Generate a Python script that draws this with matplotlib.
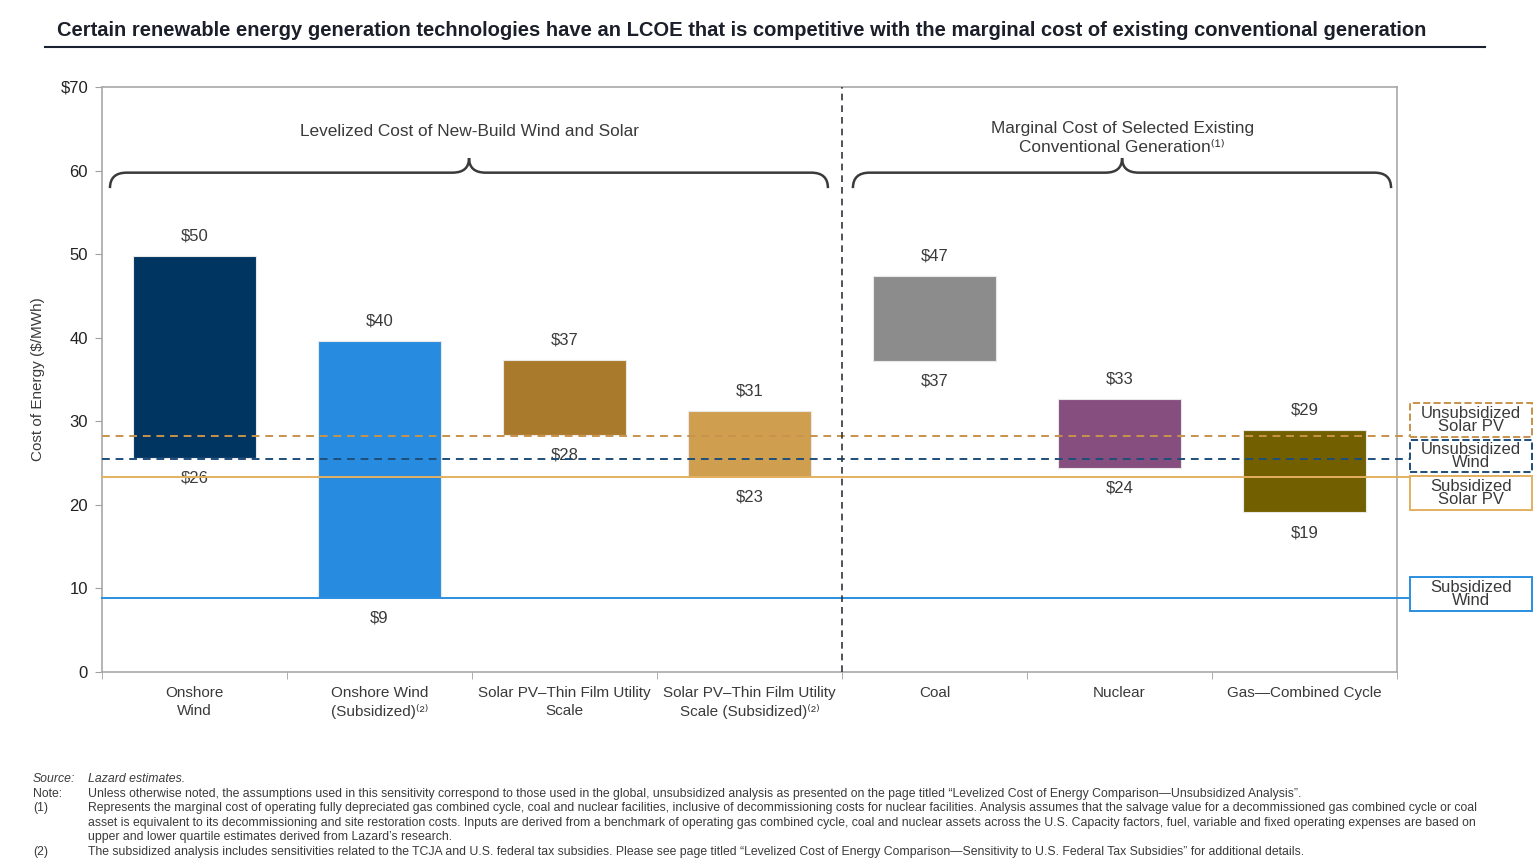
import matplotlib
matplotlib.use("Agg")
import matplotlib.pyplot as plt
from matplotlib.path import Path
from matplotlib.patches import PathPatch, Rectangle

# ---------------- data ----------------
categories = ["Onshore\nWind",
              "Onshore Wind\n(Subsidized)\u207d\u00b2\u207e",
              "Solar PV\u2013Thin Film Utility\nScale",
              "Solar PV\u2013Thin Film Utility\nScale (Subsidized)\u207d\u00b2\u207e",
              "Coal", "Nuclear", "Gas\u2014Combined Cycle"]
low_values = [25.6, 8.9, 28.4, 23.3, 37.2, 24.4, 19.1]
high_values = [49.8, 39.6, 37.3, 31.2, 47.4, 32.7, 29.0]
low_labels = ["$26", "$9", "$28", "$23", "$37", "$24", "$19"]
high_labels = ["$50", "$40", "$37", "$31", "$47", "$33", "$29"]
bar_colors = ["#003562", "#278CE0", "#AA7A2C", "#CF9E4F", "#8C8C8C", "#864E7E", "#726000"]

ref_names = ["Unsubsidized\nSolar PV", "Unsubsidized\nWind", "Subsidized\nSolar PV", "Subsidized\nWind"]
ref_values = [28.2, 25.5, 23.3, 8.9]
ref_colors = ["#C8934A", "#1F4E79", "#E3B060", "#2A8FE0"]
ref_styles = ["--", "--", "-", "-"]

yticks = [0, 10, 20, 30, 40, 50, 60, 70]
ytick_labels = ["0", "10", "20", "30", "40", "50", "60", "\\$70"]

group_titles = ["Levelized Cost of New-Build Wind and Solar",
                "Marginal Cost of Selected Existing\nConventional Generation\u207d\u00b9\u207e"]

title = ("Certain renewable energy generation technologies have an LCOE that is competitive "
         "with the marginal cost of existing conventional generation")

notes = [
    ("Source:", "Lazard estimates.", True),
    ("Note:", "Unless otherwise noted, the assumptions used in this sensitivity correspond to those used in the global, unsubsidized analysis as presented on the page titled \u201cLevelized Cost of Energy Comparison\u2014Unsubsidized Analysis\u201d.", False),
    ("(1)", "Represents the marginal cost of operating fully depreciated gas combined cycle, coal and nuclear facilities, inclusive of decommissioning costs for nuclear facilities. Analysis assumes that the salvage value for a decommissioned gas combined cycle or coal", False),
    ("", "asset is equivalent to its decommissioning and site restoration costs. Inputs are derived from a benchmark of operating gas combined cycle, coal and nuclear assets across the U.S. Capacity factors, fuel, variable and fixed operating expenses are based on", False),
    ("", "upper and lower quartile estimates derived from Lazard\u2019s research.", False),
    ("(2)", "The subsidized analysis includes sensitivities related to the TCJA and U.S. federal tax subsidies. Please see page titled \u201cLevelized Cost of Energy Comparison\u2014Sensitivity to U.S. Federal Tax Subsidies\u201d for additional details.", False),
]

# ---------------- style ----------------
REG = ["Liberation Sans", "DejaVu Sans"]
TXT = "#3A3A3A"
plt.rcParams["font.family"] = REG

fig = plt.figure(figsize=(15.36, 8.68), dpi=100)
ax = fig.add_axes([102/1536, 1-672/868, (1397-102)/1536, (672-87)/868])

x = list(range(len(categories)))
heights = [h - l for h, l in zip(high_values, low_values)]
ax.bar(x, heights, bottom=low_values, width=0.665, color=bar_colors,
       edgecolor="#E8E8E8", linewidth=0.8, zorder=2)

for xi, lo, hi, ll, hl in zip(x, low_values, high_values, low_labels, high_labels):
    ax.annotate(hl.replace("$", "\\$"), (xi, hi), xytext=(0, 14.5), textcoords="offset points",
                ha="center", va="center", fontsize=12, color=TXT)
    ax.annotate(ll.replace("$", "\\$"), (xi, lo), xytext=(0, -14.5), textcoords="offset points",
                ha="center", va="center", fontsize=12, color=TXT)

# reference lines and boxes
box_x0, box_x1 = 6.57, 7.23
box_ranges = [(28.1, 32.2), (23.9, 27.8), (19.4, 23.45), (7.3, 11.4)]
for name, val, col, ls, (b0, b1) in zip(ref_names, ref_values, ref_colors, ref_styles, box_ranges):
    ax.plot([-0.5, box_x0], [val, val], color=col, ls=ls, lw=1.4,
            dashes=(4, 3) if ls == "--" else (None, None), clip_on=False, zorder=3)
    rect = Rectangle((box_x0, b0), box_x1 - box_x0, b1 - b0, fill=False, edgecolor=col,
                     lw=1.4, ls=ls, clip_on=False, zorder=3)
    ax.add_patch(rect)
    ax.text((box_x0 + box_x1) / 2, (b0 + b1) / 2, name, ha="center", va="center",
            fontsize=12, color=TXT, linespacing=0.85, clip_on=False)

# vertical dashed separator
ax.plot([3.5, 3.5], [0, 70], color="#2F3540", lw=1.2, ls="--", dashes=(4, 3), zorder=3)

# brackets
def bracket(x0, x1, xc, y_end, y_h, y_peak, rx=0.09):
    verts = [(x0, y_end), (x0, y_h), (x0 + rx, y_h),
             (xc - rx, y_h),
             (xc, y_h), (xc, y_peak),
             (xc, y_h), (xc + rx, y_h),
             (x1 - rx, y_h),
             (x1, y_h), (x1, y_end)]
    codes = [Path.MOVETO, Path.CURVE3, Path.CURVE3,
             Path.LINETO,
             Path.CURVE3, Path.CURVE3,
             Path.CURVE3, Path.CURVE3,
             Path.LINETO,
             Path.CURVE3, Path.CURVE3]
    ax.add_patch(PathPatch(Path(verts, codes), fill=False, edgecolor="#3A3A3A", lw=1.8,
                           clip_on=False, zorder=3))

bracket(-0.457, 3.424, 1.484, 57.9, 59.75, 61.5)
bracket(3.559, 6.468, 5.014, 57.9, 59.75, 61.5)

ax.text(1.484, 64.7, group_titles[0], ha="center", va="center", fontsize=12.4, color=TXT)
ax.text(5.014, 63.9, group_titles[1], ha="center", va="center", fontsize=12.4, color=TXT,
        linespacing=1.35)

# axes styling
ax.set_xlim(-0.5, 6.5)
ax.set_ylim(0, 70)
ax.set_yticks(yticks)
ax.set_yticklabels(ytick_labels, fontsize=12, color="#222222")
ax.set_xticks(x)
ax.set_xticklabels(categories, fontsize=11, color=TXT, linespacing=1.35)
ax.set_xticks([i - 0.5 for i in range(len(categories) + 1)], minor=True)
ax.tick_params(axis="x", which="major", length=0, pad=10)
ax.tick_params(axis="x", which="minor", length=5, color="#A0A0A0", direction="out")
ax.tick_params(axis="y", length=5, color="#A0A0A0", pad=5)
for s in ax.spines.values():
    s.set_color("#A8A8A8")
    s.set_linewidth(1.2)
ax.set_ylabel("Cost of Energy (\\$/MWh)", fontsize=11, color=TXT)
ax.yaxis.set_label_coords((45 - 102) / 1295, 0.5)

# title + rule
fig.text(57/1536, 1-30/868, title, ha="left", va="center", fontsize=14.5, fontweight="bold",
         color="#1B1F2A")
fig.add_artist(plt.Line2D([45/1536, 1485/1536], [1-47/868, 1-47/868], color="#1B2333", lw=1.5))

# footnotes
y0 = 779
for i, (lab, txt, ital) in enumerate(notes):
    yy = 1 - (y0 + i * 14.6) / 868
    style = "italic" if ital else "normal"
    fig.text(33/1536, yy, lab, ha="left", va="center", fontsize=8.8, color=TXT, style=style)
    fig.text(88/1536, yy, txt, ha="left", va="center", fontsize=8.8, color=TXT, style=style)

fig.savefig("out.png", dpi=100)
